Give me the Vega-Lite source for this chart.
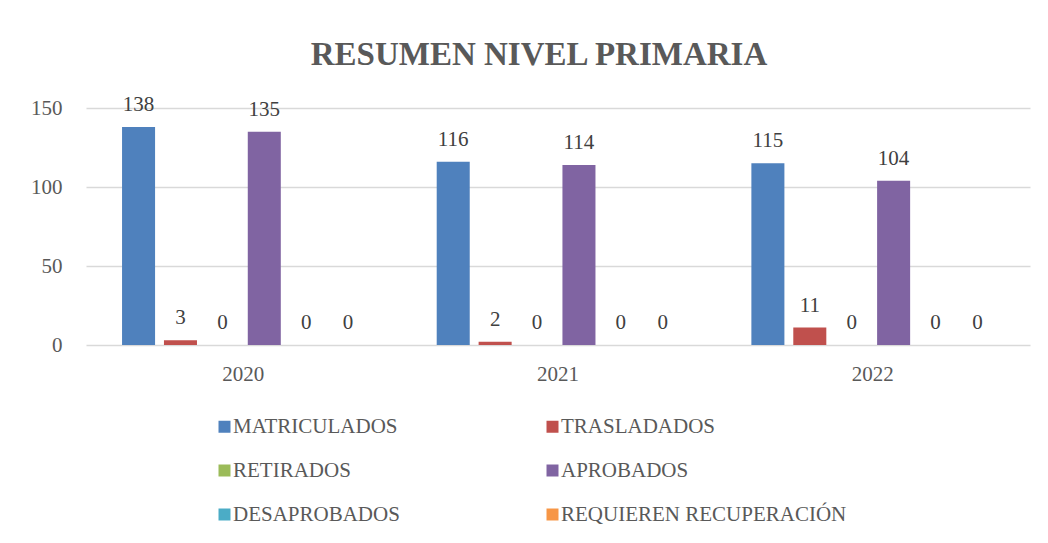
{
  "$schema": "https://vega.github.io/schema/vega-lite/v6.json",
  "width": 944,
  "height": 237,
  "autosize": "none",
  "padding": {"left": 86, "top": 108, "right": 18, "bottom": 198},
  "background": "white",
  "title": {
    "text": "RESUMEN NIVEL PRIMARIA",
    "font": "Liberation Serif",
    "fontSize": 33,
    "fontWeight": "bold",
    "color": "#595959",
    "anchor": "middle",
    "dx": -19,
    "offset": 22
  },
  "data": {
    "values": [
      {"year": "2020", "serie": "MATRICULADOS", "valor": 138},
      {"year": "2020", "serie": "TRASLADADOS", "valor": 3},
      {"year": "2020", "serie": "RETIRADOS", "valor": 0},
      {"year": "2020", "serie": "APROBADOS", "valor": 135},
      {"year": "2020", "serie": "DESAPROBADOS", "valor": 0},
      {"year": "2020", "serie": "REQUIEREN RECUPERACIÓN", "valor": 0},
      {"year": "2021", "serie": "MATRICULADOS", "valor": 116},
      {"year": "2021", "serie": "TRASLADADOS", "valor": 2},
      {"year": "2021", "serie": "RETIRADOS", "valor": 0},
      {"year": "2021", "serie": "APROBADOS", "valor": 114},
      {"year": "2021", "serie": "DESAPROBADOS", "valor": 0},
      {"year": "2021", "serie": "REQUIEREN RECUPERACIÓN", "valor": 0},
      {"year": "2022", "serie": "MATRICULADOS", "valor": 115},
      {"year": "2022", "serie": "TRASLADADOS", "valor": 11},
      {"year": "2022", "serie": "RETIRADOS", "valor": 0},
      {"year": "2022", "serie": "APROBADOS", "valor": 104},
      {"year": "2022", "serie": "DESAPROBADOS", "valor": 0},
      {"year": "2022", "serie": "REQUIEREN RECUPERACIÓN", "valor": 0}
    ]
  },
  "encoding": {
    "x": {
      "field": "year",
      "type": "nominal",
      "scale": {"paddingInner": 0, "paddingOuter": 0},
      "axis": {
        "title": null,
        "labelAngle": 0,
        "labelFont": "Liberation Serif",
        "labelFontSize": 21,
        "labelColor": "#595959",
        "labelPadding": 18,
        "ticks": false,
        "domain": false,
        "grid": false
      }
    },
    "xOffset": {
      "field": "serie",
      "type": "nominal",
      "sort": ["MATRICULADOS", "TRASLADADOS", "RETIRADOS", "APROBADOS", "DESAPROBADOS", "REQUIEREN RECUPERACIÓN"],
      "scale": {"paddingInner": 0.212, "paddingOuter": 0.86}
    },
    "y": {
      "field": "valor",
      "type": "quantitative",
      "scale": {"domain": [0, 150], "nice": false},
      "axis": {
        "title": null,
        "values": [0, 50, 100, 150],
        "labelFont": "Liberation Serif",
        "labelFontSize": 21,
        "labelColor": "#595959",
        "labelPadding": 24,
        "ticks": false,
        "domain": false,
        "grid": true,
        "gridColor": "#D9D9D9",
        "gridWidth": 1.5
      }
    }
  },
  "layer": [
    {
      "mark": {"type": "bar"},
      "encoding": {
        "color": {
          "field": "serie",
          "type": "nominal",
          "sort": ["MATRICULADOS", "TRASLADADOS", "RETIRADOS", "APROBADOS", "DESAPROBADOS", "REQUIEREN RECUPERACIÓN"],
          "scale": {
            "domain": ["MATRICULADOS", "TRASLADADOS", "RETIRADOS", "APROBADOS", "DESAPROBADOS", "REQUIEREN RECUPERACIÓN"],
            "range": ["#4F81BD", "#C0504D", "#9BBB59", "#8064A2", "#4BACC6", "#F79646"]
          },
          "legend": {
            "title": null,
            "orient": "none",
            "legendX": 128,
            "legendY": 308,
            "columns": 2,
            "direction": "horizontal",
            "symbolType": "square",
            "symbolSize": 144,
            "symbolStrokeWidth": 0,
            "labelFont": "Liberation Serif",
            "labelFontSize": 21,
            "labelColor": "#595959",
            "labelOffset": -2,
            "columnPadding": 142,
            "rowPadding": 22,
            "labelLimit": 400
          }
        }
      }
    },
    {
      "mark": {
        "type": "text",
        "baseline": "alphabetic",
        "dy": -16,
        "font": "Liberation Serif",
        "fontSize": 21,
        "color": "#404040"
      },
      "encoding": {
        "text": {"field": "valor", "type": "quantitative"}
      }
    }
  ],
  "config": {
    "view": {"stroke": null}
  }
}
